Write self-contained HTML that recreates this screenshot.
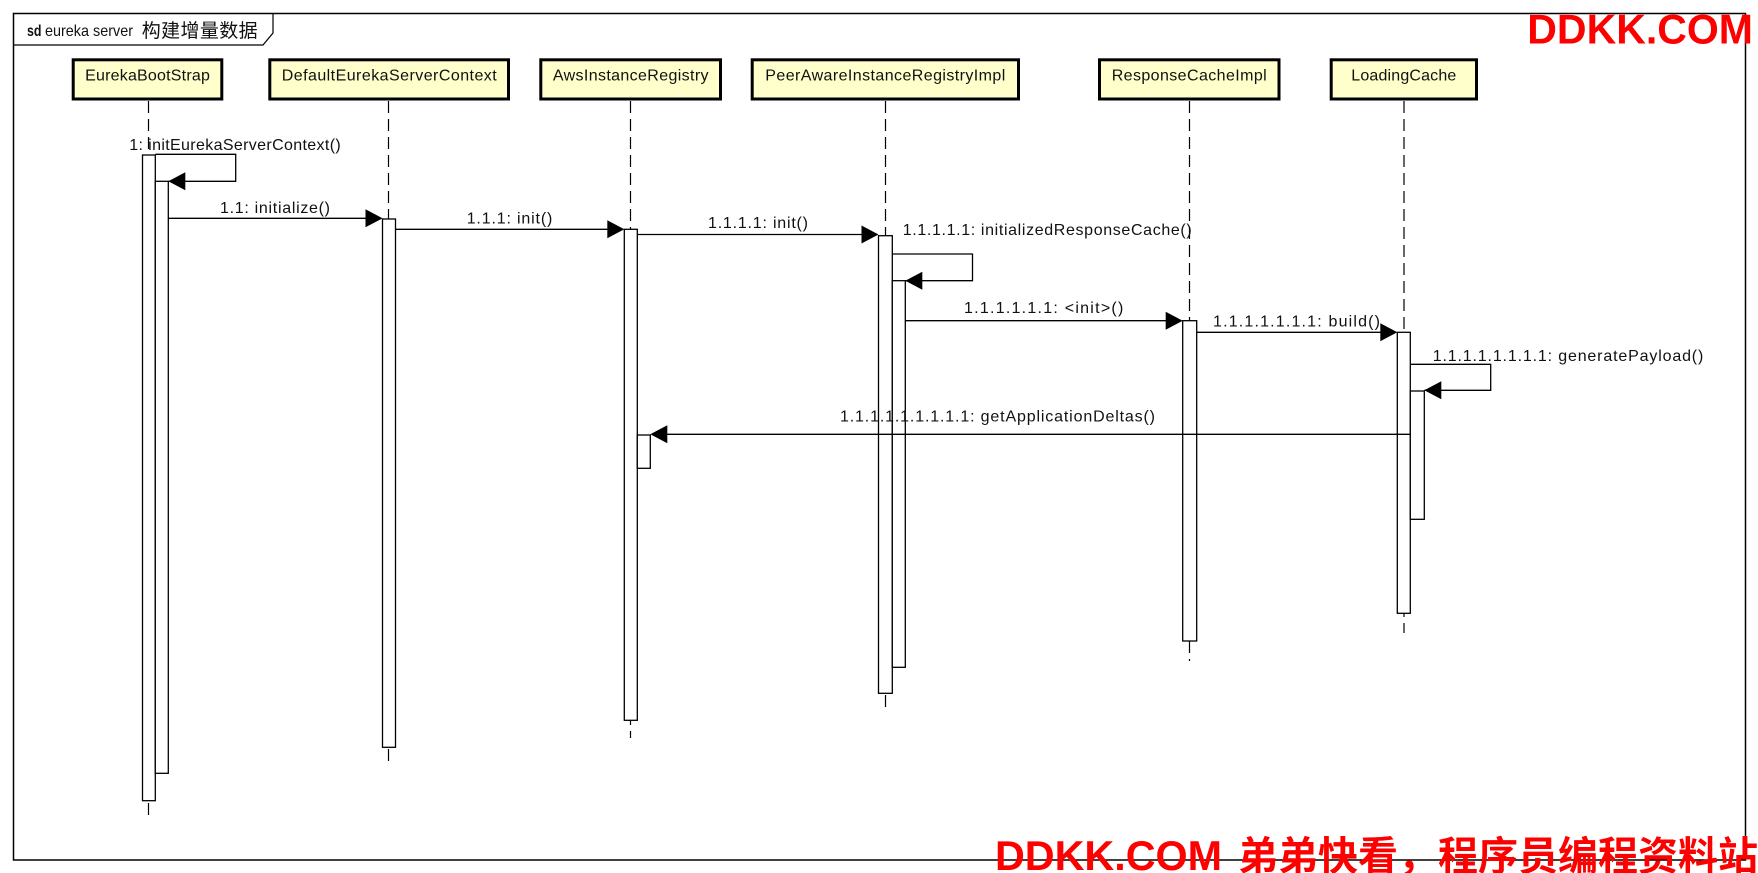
<!DOCTYPE html>
<html>
<head>
<meta charset="utf-8">
<style>
  html, body { margin: 0; padding: 0; background: #fff; }
  body { width: 1758px; height: 873px; overflow: hidden; }
  svg { display: block; }
  .lbl { font-family: "Liberation Sans", "Noto Sans CJK SC", sans-serif; font-size: 16px; fill: #111; }
  .box { fill: #FFFFCC; stroke: #000; stroke-width: 3; }
  .act { fill: #fff; stroke: #000; stroke-width: 1.3; }
  .life { stroke: #000; stroke-width: 1.2; stroke-dasharray: 12 6; fill: none; }
  .msg { stroke: #000; stroke-width: 1.3; fill: none; }
  .wm { font-family: "Liberation Sans", "Noto Sans CJK SC", sans-serif; font-weight: bold; fill: #FF0000; }
</style>
</head>
<body>
<svg width="1758" height="873" viewBox="0 0 1758 873" xmlns="http://www.w3.org/2000/svg">
  <rect x="0" y="0" width="1758" height="873" fill="#fff"/>

  <!-- Frame -->
  <rect x="13.5" y="13.5" width="1732" height="846.5" fill="none" stroke="#000" stroke-width="1.5"/>
  <path d="M13.5,45 L263,45 L273,33 L273,13.5" fill="none" stroke="#000" stroke-width="1.2"/>
  <text class="lbl" x="27" y="36" font-weight="bold" textLength="14.5" lengthAdjust="spacingAndGlyphs">sd</text>
  <text class="lbl" x="45" y="36" textLength="88" lengthAdjust="spacingAndGlyphs">eureka server</text>
  <text class="lbl" x="141.7" y="37" style="font-size:19px" textLength="116" lengthAdjust="spacing">构建增量数据</text>

  <!-- Lifelines -->
  <line class="life" x1="148.5" y1="101" x2="148.5" y2="820"/>
  <line class="life" x1="388.5" y1="101" x2="388.5" y2="763"/>
  <line class="life" x1="630.5" y1="101" x2="630.5" y2="738"/>
  <line class="life" x1="885.5" y1="101" x2="885.5" y2="713"/>
  <line class="life" x1="1189.5" y1="101" x2="1189.5" y2="661"/>
  <line class="life" x1="1404" y1="101" x2="1404" y2="633"/>

  <!-- Participant boxes -->
  <rect class="box" x="73.2" y="59.8" width="148.6" height="39.2"/>
  <text class="lbl" x="147.5" y="80.5" text-anchor="middle" textLength="124.7" lengthAdjust="spacing">EurekaBootStrap</text>

  <rect class="box" x="269.8" y="59.8" width="238.7" height="39.2"/>
  <text class="lbl" x="389.2" y="80.5" text-anchor="middle" textLength="215" lengthAdjust="spacing">DefaultEurekaServerContext</text>

  <rect class="box" x="540.8" y="59.8" width="179.7" height="39.2"/>
  <text class="lbl" x="630.7" y="80.5" text-anchor="middle" textLength="155.7" lengthAdjust="spacing">AwsInstanceRegistry</text>

  <rect class="box" x="752.2" y="59.8" width="266.3" height="39.2"/>
  <text class="lbl" x="885.3" y="80.5" text-anchor="middle" textLength="240" lengthAdjust="spacing">PeerAwareInstanceRegistryImpl</text>

  <rect class="box" x="1099.5" y="59.8" width="179.5" height="39.2"/>
  <text class="lbl" x="1189.2" y="80.5" text-anchor="middle" textLength="155" lengthAdjust="spacing">ResponseCacheImpl</text>

  <rect class="box" x="1331.2" y="59.8" width="145.3" height="39.2"/>
  <text class="lbl" x="1403.8" y="80.5" text-anchor="middle" textLength="105" lengthAdjust="spacing">LoadingCache</text>

  <!-- Activations -->
  <rect class="act" x="142.5" y="155" width="12.8" height="645.7"/>
  <rect class="act" x="155.3" y="181.3" width="13" height="592"/>
  <rect class="act" x="382.5" y="219" width="13" height="528.3"/>
  <rect class="act" x="624.3" y="229.3" width="13" height="491"/>
  <rect class="act" x="637.3" y="435" width="13" height="33.3"/>
  <rect class="act" x="878.5" y="235.7" width="13.8" height="457.6"/>
  <rect class="act" x="892.3" y="280.7" width="13" height="386.6"/>
  <rect class="act" x="1182.7" y="320.7" width="14" height="320.3"/>
  <rect class="act" x="1397.3" y="332.3" width="13" height="281"/>
  <rect class="act" x="1410.3" y="391" width="14" height="128.3"/>

  <!-- Message 1: self call -->
  <text class="lbl" x="129.3" y="150" textLength="211.4" lengthAdjust="spacing">1: initEurekaServerContext()</text>
  <path class="msg" d="M155.3,154.3 H235.7 V181.3 H168.3"/>
  <polygon points="168.3,181.3 185.3,172.3 185.3,190.3" fill="#000"/>

  <!-- 1.1 initialize -->
  <text class="lbl" x="220" y="213" textLength="110" lengthAdjust="spacing">1.1: initialize()</text>
  <line class="msg" x1="168.3" y1="218.3" x2="370" y2="218.3"/>
  <polygon points="382.5,218.3 365.5,209.3 365.5,227.3" fill="#000"/>

  <!-- 1.1.1 init -->
  <text class="lbl" x="466.7" y="223.5" textLength="85.6" lengthAdjust="spacing">1.1.1: init()</text>
  <line class="msg" x1="395.5" y1="229.3" x2="612" y2="229.3"/>
  <polygon points="624.3,229.3 607.3,220.3 607.3,238.3" fill="#000"/>

  <!-- 1.1.1.1 init -->
  <text class="lbl" x="708" y="228" textLength="100" lengthAdjust="spacing">1.1.1.1: init()</text>
  <line class="msg" x1="637.3" y1="234.5" x2="866" y2="234.5"/>
  <polygon points="878.5,234.5 861.5,225.5 861.5,243.5" fill="#000"/>

  <!-- 1.1.1.1.1 self -->
  <text class="lbl" x="902.7" y="235" textLength="289" lengthAdjust="spacing">1.1.1.1.1: initializedResponseCache()</text>
  <path class="msg" d="M892.3,254 H972.5 V280.7 H905.3"/>
  <polygon points="905.3,280.7 922.3,271.7 922.3,289.7" fill="#000"/>

  <!-- <init> -->
  <text class="lbl" x="964" y="313" textLength="159.3" lengthAdjust="spacing">1.1.1.1.1.1: &lt;init&gt;()</text>
  <line class="msg" x1="905.3" y1="320.7" x2="1170" y2="320.7"/>
  <polygon points="1182.7,320.7 1165.7,311.7 1165.7,329.7" fill="#000"/>

  <!-- build -->
  <text class="lbl" x="1213" y="326.5" textLength="167" lengthAdjust="spacing">1.1.1.1.1.1.1: build()</text>
  <line class="msg" x1="1196.7" y1="332.3" x2="1385" y2="332.3"/>
  <polygon points="1397.3,332.3 1380.3,323.3 1380.3,341.3" fill="#000"/>

  <!-- generatePayload self -->
  <text class="lbl" x="1432.7" y="361" textLength="270.6" lengthAdjust="spacing">1.1.1.1.1.1.1.1: generatePayload()</text>
  <path class="msg" d="M1410.3,364.3 H1490.7 V390.3 H1424.3"/>
  <polygon points="1424.3,390.3 1441.3,381.3 1441.3,399.3" fill="#000"/>

  <!-- getApplicationDeltas -->
  <text class="lbl" x="840" y="421.7" textLength="315" lengthAdjust="spacing">1.1.1.1.1.1.1.1.1: getApplicationDeltas()</text>
  <line class="msg" x1="1410.3" y1="434.3" x2="662" y2="434.3"/>
  <polygon points="650.3,434.3 667.3,425.3 667.3,443.3" fill="#000"/>

  <!-- Watermarks -->
  <text class="wm" x="1527.3" y="43.3" style="font-size:42px" textLength="225.7" lengthAdjust="spacingAndGlyphs">DDKK.COM</text>
  <text class="wm" x="995" y="870" style="font-size:42px" textLength="227" lengthAdjust="spacingAndGlyphs">DDKK.COM</text>
  <text class="wm" x="1238" y="870" style="font-size:40px; font-family:'Noto Sans CJK SC', 'WenQuanYi Zen Hei', sans-serif;" textLength="520" lengthAdjust="spacingAndGlyphs">弟弟快看，程序员编程资料站</text>
</svg>
</body>
</html>
